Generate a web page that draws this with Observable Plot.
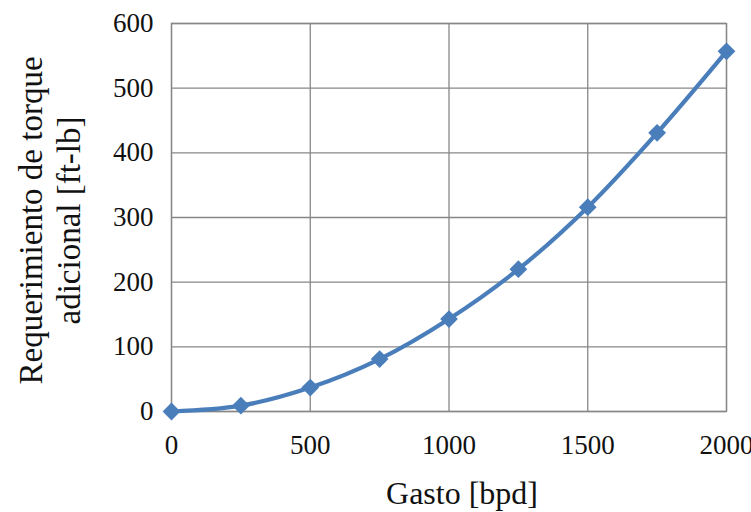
<!DOCTYPE html>
<html>
<head>
<meta charset="utf-8">
<script src="https://cdn.jsdelivr.net/npm/d3@7"></script>
<script src="https://cdn.jsdelivr.net/npm/@observablehq/plot@0.6"></script>
<style>
  html, body { margin: 0; padding: 0; background: #fff; }
  svg { display: block; }
</style>
</head>
<body>
<div id="chart"></div>
<script>
const gasto = [0, 250, 500, 750, 1000, 1250, 1500, 1750, 2000];
const torque = [0, 9, 37, 81, 143, 220, 316, 431, 557];
const xTicks = [0, 500, 1000, 1500, 2000];
const yTicks = [0, 100, 200, 300, 400, 500, 600];
const xLabel = "Gasto [bpd]";
const yLabel = "Requerimiento de torque\nadicional [ft-lb]";

const data = gasto.map((g, i) => ({gasto: g, torque: torque[i]}));
const blue = "#4a7ebb";
const gridColor = "#878787";

const chart = Plot.plot({
  width: 751,
  height: 512,
  marginLeft: 171,
  marginRight: 25,
  marginTop: 23,
  marginBottom: 101,
  style: {fontFamily: "'Liberation Serif', 'Times New Roman', serif", fontSize: "27px", color: "#111", background: "#fff"},
  x: {domain: [0, 2000], label: null},
  y: {domain: [0, 600], label: null},
  marks: [
    Plot.gridX(xTicks, {stroke: gridColor, strokeOpacity: 1, strokeWidth: 1.3}),
    Plot.gridY(yTicks, {stroke: gridColor, strokeOpacity: 1, strokeWidth: 1.3}),
    Plot.frame({stroke: gridColor, strokeWidth: 1.3}),
    Plot.axisX({ticks: xTicks, tickSize: 0, tickPadding: 23, tickFormat: d => String(d), label: null}),
    Plot.axisY({ticks: yTicks, tickSize: 0, tickPadding: 18, tickFormat: d => String(d), label: null}),
    Plot.line(data, {x: "gasto", y: "torque", stroke: blue, strokeWidth: 4.2, curve: "catmull-rom"}),
    Plot.dot(data, {x: "gasto", y: "torque", symbol: "diamond2", r: 8, fill: blue, stroke: "none"}),
    Plot.text([xLabel], {frameAnchor: "bottom", dy: 82, dx: 13, fontSize: 32, fill: "#111", lineAnchor: "middle"}),
    Plot.text([yLabel], {frameAnchor: "left", textAnchor: "middle", dx: -123, dy: 3, rotate: -90, fontSize: 33, lineHeight: 1.18, fill: "#111", lineAnchor: "middle"})
  ]
});
document.getElementById("chart").appendChild(chart);
</script>
</body>
</html>
